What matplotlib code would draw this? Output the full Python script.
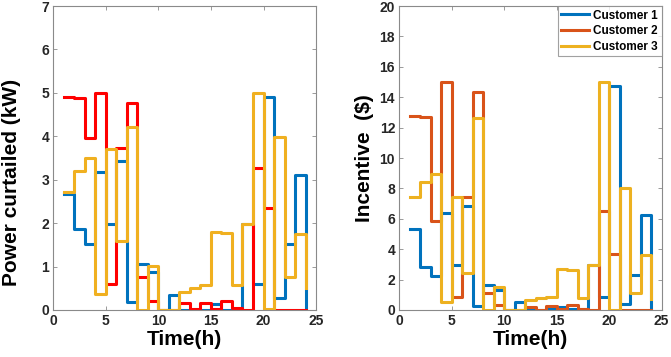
import matplotlib
matplotlib.use("Agg")
import matplotlib.pyplot as plt
import numpy as np

hours = list(range(1, 25))

# Power curtailed (kW)
power_c1 = [2.67, 1.86, 1.52, 3.18, 1.97, 3.42, 0.19, 1.07, 0.87, 0.0, 0.34, 0.0,
            0.0, 0.0, 0.14, 0.0, 0.02, 1.97, 0.60, 4.91, 0.28, 1.52, 3.11, 0.0]
power_c2 = [4.91, 4.89, 3.96, 5.00, 0.60, 3.72, 4.76, 0.76, 0.21, 0.0, 0.0, 0.15,
            0.03, 0.17, 0.03, 0.21, 0.04, 0.0, 3.28, 2.35, 0.0, 0.0, 0.0, 0.0]
power_c3 = [2.71, 3.20, 3.49, 0.36, 3.70, 1.60, 4.21, 0.0, 1.02, 0.0, 0.0, 0.41,
            0.51, 0.57, 1.80, 1.77, 0.57, 1.97, 5.00, 0.02, 3.99, 0.76, 1.76, 0.50]

# Incentive ($)
inc_c1 = [5.33, 2.81, 2.26, 6.36, 2.96, 6.84, 0.29, 1.62, 1.30, 0.0, 0.50, 0.0,
          0.0, 0.05, 0.20, 0.05, 0.05, 2.98, 0.88, 14.75, 0.40, 2.28, 6.25, 0.0]
inc_c2 = [12.76, 12.68, 5.88, 15.02, 0.88, 7.43, 14.32, 1.12, 0.33, 0.0, 0.0, 0.20,
          0.03, 0.28, 0.05, 0.30, 0.05, 0.0, 6.51, 3.70, 0.0, 0.0, 0.0, 0.0]
inc_c3 = [7.43, 8.40, 8.97, 0.55, 7.43, 2.43, 12.65, 0.0, 1.50, 0.0, 0.0, 0.63,
          0.79, 0.85, 2.70, 2.63, 0.81, 2.98, 15.00, 0.02, 8.04, 1.14, 3.64, 0.70]

legend_labels = ["Customer 1", "Customer 2", "Customer 3"]

plt.rcParams['font.family'] = ['Liberation Sans', 'DejaVu Sans']
plt.rcParams['font.weight'] = 'bold'

fig = plt.figure(figsize=(6.71, 3.57), dpi=100)
ax1 = fig.add_axes([0.0795, 0.1317, 0.3915, 0.8513])
ax2 = fig.add_axes([0.595, 0.1317, 0.391, 0.8513])

lw = 2.2
blue = '#0072BD'

ax1.step(hours, power_c1, where='post', color=blue, lw=lw)
ax1.step(hours, power_c2, where='post', color='#FF0000', lw=lw)
ax1.step(hours, power_c3, where='post', color='#F0B020', lw=lw)

ax2.step(hours, inc_c1, where='post', color=blue, lw=lw, label=legend_labels[0])
ax2.step(hours, inc_c2, where='post', color='#D95319', lw=lw, label=legend_labels[1])
ax2.step(hours, inc_c3, where='post', color='#EDB120', lw=lw, label=legend_labels[2])

for ax in (ax1, ax2):
    ax.set_xlim(0, 25)
    ax.set_xticks([0, 5, 10, 15, 20, 25])
    ax.tick_params(direction='in', top=True, right=True, labelsize=10,
                   labelcolor='#262626', length=3, width=0.6, color='#8a8a8a', pad=3)
    for lab in ax.get_xticklabels() + ax.get_yticklabels():
        lab.set_fontweight('bold')
    for sp in ax.spines.values():
        sp.set_color('#8a8a8a')
        sp.set_linewidth(0.8)
    ax.set_xlabel('Time(h)', fontsize=15, fontweight='bold', labelpad=1)

ax1.set_ylim(0, 7)
ax1.set_yticks(range(0, 8))
ax1.set_ylabel('Power curtailed (kW)', fontsize=15, fontweight='bold')
ax1.yaxis.set_label_coords(-0.125, 0.42)

ax2.set_ylim(0, 20)
ax2.set_yticks(range(0, 21, 2))
ax2.set_ylabel('Incentive  ($)', fontsize=15, fontweight='bold', labelpad=4)

leg = ax2.legend(loc='upper right', fontsize=8.5, frameon=True, fancybox=False,
                 handlelength=2.3, borderpad=0.3, labelspacing=0.3,
                 handletextpad=0.4, borderaxespad=0.0)
leg.get_frame().set_edgecolor('#8a8a8a')
leg.get_frame().set_linewidth(0.8)
for t in leg.get_texts():
    t.set_fontweight('bold')

fig.savefig('out.png', dpi=100)
